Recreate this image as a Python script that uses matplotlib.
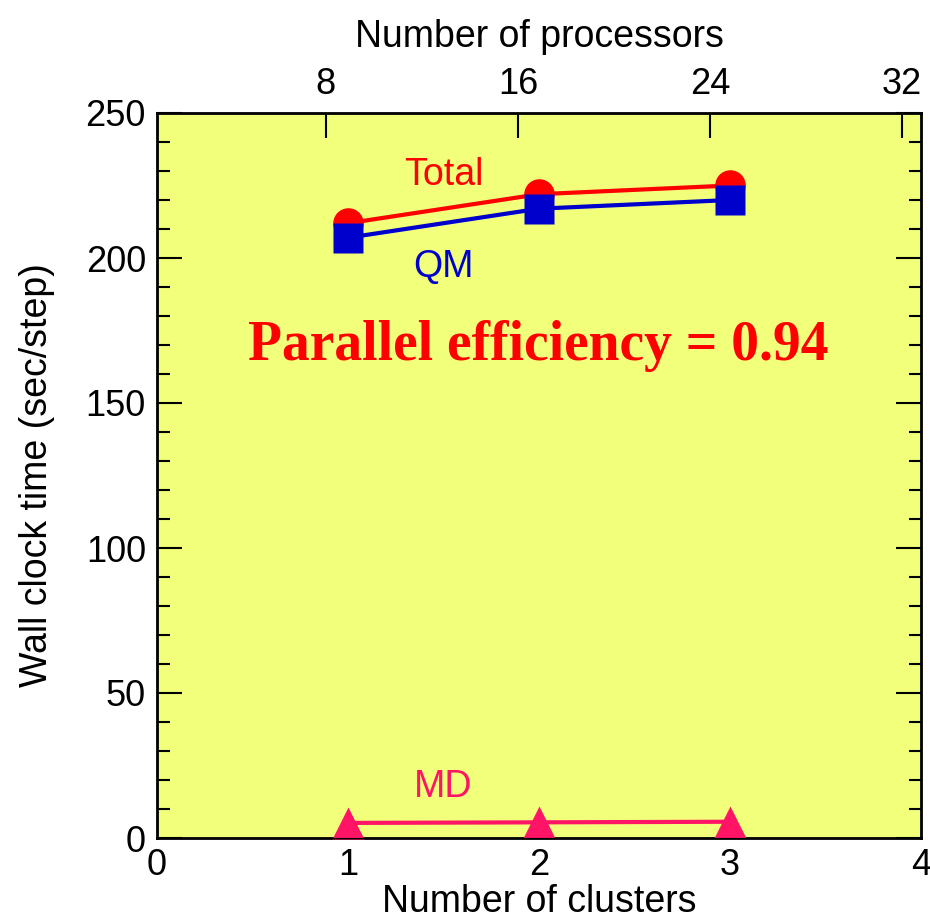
import matplotlib
matplotlib.use("Agg")
import matplotlib.pyplot as plt
from matplotlib.ticker import MultipleLocator

clusters = [1, 2, 3]
total = [212, 222, 225]
qm = [207, 217, 220]
md = [5.2, 5.4, 5.6]
proc_ticks = [8, 16, 24, 32]

plt.rcParams['font.family'] = ['Liberation Sans', 'DejaVu Sans']

fig = plt.figure(figsize=(9.3, 9.21), dpi=100)
ax = fig.add_axes([157/930, 1-838/921, (921-157)/930, (838-113)/921])
ax.set_facecolor('#F1FF7A')

red = '#FF0000'
blue = '#0000CC'
pink = '#FF1466'

ax.plot(clusters, total, color=red, lw=3, marker='o', ms=22, mec='none', zorder=3)
ax.plot(clusters, qm, color=blue, lw=3, marker='s', ms=22, mec='none', zorder=4)
ax.plot(clusters, md, color=pink, lw=3, marker='^', ms=23, mec='none', zorder=3, clip_on=False)

ax.set_xlim(0, 4)
ax.set_ylim(0, 250)
ax.xaxis.set_major_locator(MultipleLocator(1))
ax.yaxis.set_major_locator(MultipleLocator(50))
ax.yaxis.set_minor_locator(MultipleLocator(10))
ax.tick_params(axis='y', which='major', direction='in', length=18, width=1.5, labelsize=26, left=True, right=True, pad=8)
ax.tick_params(axis='y', which='minor', direction='in', length=9, width=1.5, left=True, right=True)
ax.tick_params(axis='x', which='both', direction='in', length=0, labelsize=26, pad=7)
for s in ax.spines.values():
    s.set_linewidth(2)

ax.set_xlabel('Number of clusters', fontsize=27, labelpad=1)
ax.set_ylabel('Wall clock time (sec/step)', fontsize=27, labelpad=22)

ax2 = ax.twiny()
ax2.set_xlim(0.96, 32.8)
ax2.set_xticks(proc_ticks)
ax2.tick_params(axis='x', direction='in', length=18, width=1.5, labelsize=26, pad=8)
ax2.set_xlabel('Number of processors', fontsize=27, labelpad=14)

ax.text(1.5, 228.6, 'Total', color=red, fontsize=27, ha='center', va='center', zorder=5)
ax.text(1.5, 197, 'QM', color=blue, fontsize=27, ha='center', va='center', zorder=5)
ax.text(1.5, 17.5, 'MD', color=pink, fontsize=27, ha='center', va='center', zorder=5)
ax.text(1.995, 169.5, 'Parallel efficiency = 0.94', color=red, fontsize=40, fontweight='bold',
        family=['Liberation Serif', 'DejaVu Serif'], ha='center', va='center', zorder=5)

fig.savefig('out.png', dpi=100)
